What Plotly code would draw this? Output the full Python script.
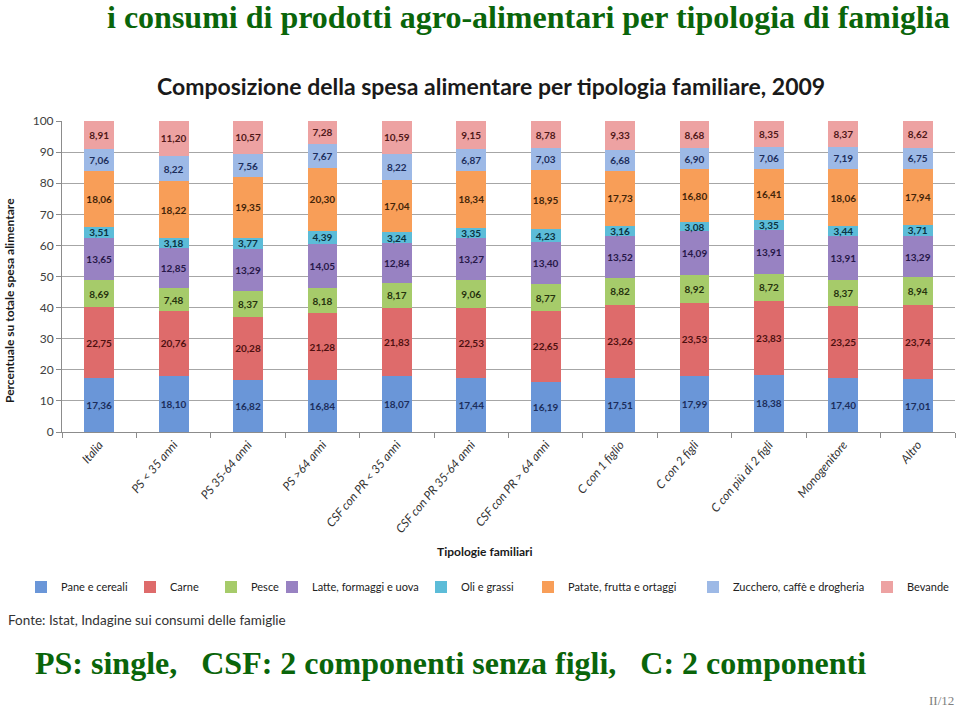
import plotly.graph_objects as go

categories = ["Italia", "PS < 35 anni", "PS 35-64 anni", "PS >64 anni",
              "CSF con PR < 35 anni", "CSF con PR 35-64 anni", "CSF con PR > 64 anni",
              "C con 1 figlio", "C con 2 figli", "C con più di 2 figli",
              "Monogenitore", "Altro"]

pane_cereali = [17.36, 18.10, 16.82, 16.84, 18.07, 17.44, 16.19, 17.51, 17.99, 18.38, 17.40, 17.01]
carne = [22.75, 20.76, 20.28, 21.28, 21.83, 22.53, 22.65, 23.26, 23.53, 23.83, 23.25, 23.74]
pesce = [8.69, 7.48, 8.37, 8.18, 8.17, 9.06, 8.77, 8.82, 8.92, 8.72, 8.37, 8.94]
latte_formaggi_uova = [13.65, 12.85, 13.29, 14.05, 12.84, 13.27, 13.40, 13.52, 14.09, 13.91, 13.91, 13.29]
oli_grassi = [3.51, 3.18, 3.77, 4.39, 3.24, 3.35, 4.23, 3.16, 3.08, 3.35, 3.44, 3.71]
patate_frutta_ortaggi = [18.06, 18.22, 19.35, 20.30, 17.04, 18.34, 18.95, 17.73, 16.80, 16.41, 18.06, 17.94]
zucchero_caffe_drogheria = [7.06, 8.22, 7.56, 7.67, 8.22, 6.87, 7.03, 6.68, 6.90, 7.06, 7.19, 6.75]
bevande = [8.91, 11.20, 10.57, 7.28, 10.59, 9.15, 8.78, 9.33, 8.68, 8.35, 8.37, 8.62]

series = [
    ("Pane e cereali", pane_cereali, "#6A96D8", "#1C2E5C"),
    ("Carne", carne, "#DE6B6B", "#4E1010"),
    ("Pesce", pesce, "#A6CB6A", "#26330E"),
    ("Latte, formaggi e uova", latte_formaggi_uova, "#9882C2", "#271848"),
    ("Oli e grassi", oli_grassi, "#5CBCD8", "#0B3341"),
    ("Patate, frutta e ortaggi", patate_frutta_ortaggi, "#F89E58", "#432509"),
    ("Zucchero, caffè e drogheria", zucchero_caffe_drogheria, "#9DB9E6", "#1C2E5C"),
    ("Bevande", bevande, "#EDA2A2", "#501818"),
]

# legend symbol centres in pixels (one small legend per series, laid out like the original)
legend_px = [41, 150, 231, 292, 441, 548, 713, 887]

W, H = 960, 708
L, R, T, B = 62, 5, 121, 276
PW, PH = W - L - R, H - T - B


def px_x(x):
    return (x - L) / PW


def px_y(y):
    return (H - B - y) / PH


fig = go.Figure()
legends = {}
for i, (name, vals, color, tcolor) in enumerate(series):
    lname = "legend" if i == 0 else f"legend{i + 1}"
    fig.add_trace(go.Bar(
        x=categories, y=vals, name=name, legend=lname,
        marker=dict(color=color, line=dict(width=0)),
        texttemplate="%{y:.2f}", textposition="inside", textangle=0,
        insidetextanchor="middle", constraintext="none",
        textfont=dict(family="Lato", size=10, color=tcolor, weight="bold"),
        hoverinfo="skip",
    ))
    legends[lname] = dict(
        orientation="h", xref="container", yref="container",
        x=(legend_px[i] - 20) / W, xanchor="left",
        y=1 - 587 / H, yanchor="middle",
        bgcolor="rgba(0,0,0,0)", borderwidth=0,
        font=dict(family="Lato", size=11, color="#222222"),
        itemwidth=30,
    )

green = "#0A650A"
fig.update_layout(
    width=W, height=H,
    barmode="stack", bargap=0.6,
    separators=",.",
    paper_bgcolor="white", plot_bgcolor="white",
    margin=dict(l=L, r=R, t=T, b=B, autoexpand=False),
    showlegend=True,
    xaxis=dict(tickangle=-50, tickfont=dict(family="Lato", size=12, color="#333333", style="italic"),
               showline=True, linecolor="#8C8C8C", ticks="outside", ticklen=5,
               tickcolor="#8C8C8C", tickson="boundaries", showgrid=False, fixedrange=True),
    yaxis=dict(range=[0, 100], dtick=10, tickfont=dict(family="Lato", size=12, color="#404040"),
               showline=True, linecolor="#8C8C8C", ticks="outside", ticklen=5,
               tickcolor="#8C8C8C", showgrid=True, gridcolor="#A6A6A6", gridwidth=1,
               zeroline=False, fixedrange=True),
    annotations=[
        dict(text="<b>i consumi di prodotti agro-alimentari per tipologia di famiglia</b>",
             xref="paper", yref="paper", x=px_x(528), y=px_y(17),
             showarrow=False, xanchor="center", yanchor="middle",
             font=dict(family="Liberation Serif", size=32, color=green)),
        dict(text="<b>Composizione della spesa alimentare per tipologia familiare, 2009</b>",
             xref="paper", yref="paper", x=px_x(491), y=px_y(86),
             showarrow=False, xanchor="center", yanchor="middle",
             font=dict(family="Lato", size=23, color="#1A1A1A")),
        dict(text="<b>Percentuale su totale spesa alimentare</b>", textangle=-90,
             xref="paper", yref="paper", x=px_x(9), y=px_y(301),
             showarrow=False, xanchor="center", yanchor="middle",
             font=dict(family="Lato", size=12, color="#1A1A1A")),
        dict(text="<b>Tipologie familiari</b>",
             xref="paper", yref="paper", x=px_x(485), y=px_y(551),
             showarrow=False, xanchor="center", yanchor="middle",
             font=dict(family="Lato", size=12, color="#1A1A1A")),
        dict(text="Fonte: Istat, Indagine sui consumi delle famiglie",
             xref="paper", yref="paper", x=px_x(6), y=px_y(620),
             showarrow=False, xanchor="left", yanchor="middle",
             font=dict(family="Lato", size=13.5, color="#333333")),
        dict(text="<b>PS: single,\u00a0\u00a0\u00a0CSF: 2 componenti senza figli,\u00a0\u00a0\u00a0C: 2 componenti</b>",
             xref="paper", yref="paper", x=px_x(450), y=px_y(663),
             showarrow=False, xanchor="center", yanchor="middle",
             font=dict(family="Liberation Serif", size=32, color=green)),
        dict(text="II/12",
             xref="paper", yref="paper", x=px_x(956), y=px_y(700),
             showarrow=False, xanchor="right", yanchor="middle",
             font=dict(family="Liberation Serif", size=13, color="#808080")),
    ],
    **legends,
)

fig.write_html("out.html", config={"displayModeBar": False},
               post_script="document.body.style.margin='0';document.body.style.overflow='hidden';")
